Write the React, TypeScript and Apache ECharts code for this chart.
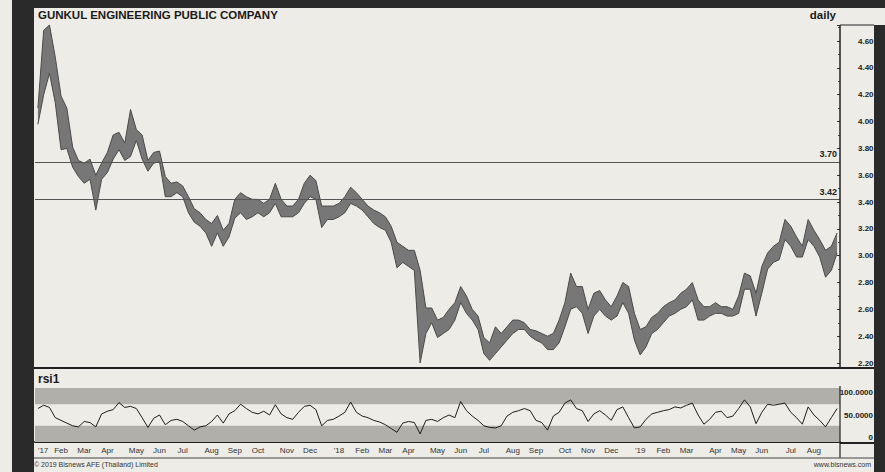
import React, { useEffect, useRef } from 'react';
import * as echarts from 'echarts';

// ---- data (weekly) ----
const firstWeek = '2017-01-02';
const monthNames = ['Jan', 'Feb', 'Mar', 'Apr', 'May', 'Jun', 'Jul', 'Aug', 'Sep', 'Oct', 'Nov', 'Dec'];

const lows = [
  3.98, 4.20, 4.36, 4.14, 3.79, 3.80, 3.66, 3.59, 3.54, 3.57,
  3.34, 3.57, 3.62, 3.72, 3.79, 3.71, 3.74, 3.86, 3.72, 3.63,
  3.69, 3.70, 3.44, 3.44, 3.47, 3.44, 3.32, 3.25, 3.22, 3.17,
  3.07, 3.17, 3.07, 3.14, 3.28, 3.32, 3.27, 3.29, 3.32, 3.29,
  3.32, 3.39, 3.29, 3.29, 3.29, 3.32, 3.39, 3.44, 3.42, 3.21,
  3.27, 3.27, 3.29, 3.32, 3.39, 3.37, 3.34, 3.29, 3.24, 3.21,
  3.19, 3.10, 2.91, 2.95, 2.92, 2.89, 2.20, 2.42, 2.50, 2.39,
  2.42, 2.45, 2.52, 2.65, 2.57, 2.52, 2.45, 2.27, 2.22, 2.27,
  2.32, 2.37, 2.42, 2.45, 2.45, 2.40, 2.37, 2.35, 2.30, 2.30,
  2.35, 2.47, 2.60, 2.62, 2.57, 2.42, 2.55, 2.60, 2.55, 2.52,
  2.55, 2.65, 2.57, 2.37, 2.26, 2.32, 2.42, 2.45, 2.50, 2.55,
  2.57, 2.60, 2.62, 2.67, 2.52, 2.52, 2.55, 2.57, 2.57, 2.55,
  2.55, 2.57, 2.75, 2.75, 2.55, 2.72, 2.90, 2.95, 2.97, 3.12,
  3.07, 2.99, 2.99, 3.12, 3.07, 2.99, 2.84, 2.89, 3.02,
];

const highs = [
  4.10, 4.68, 4.72, 4.48, 4.19, 4.10, 3.81, 3.71, 3.69, 3.72,
  3.60, 3.69, 3.77, 3.90, 3.92, 3.84, 4.09, 3.94, 3.90, 3.71,
  3.77, 3.78, 3.59, 3.54, 3.55, 3.52, 3.44, 3.35, 3.32, 3.27,
  3.24, 3.30, 3.19, 3.24, 3.42, 3.47, 3.44, 3.42, 3.42, 3.39,
  3.42, 3.54, 3.42, 3.37, 3.37, 3.42, 3.54, 3.60, 3.56, 3.37,
  3.37, 3.37, 3.39, 3.44, 3.51, 3.47, 3.42, 3.37, 3.34, 3.32,
  3.29, 3.22, 3.10, 3.07, 3.04, 3.04, 2.89, 2.61, 2.61, 2.52,
  2.54, 2.60, 2.65, 2.77, 2.70, 2.60, 2.55, 2.39, 2.35, 2.47,
  2.42, 2.47, 2.52, 2.52, 2.50, 2.45, 2.44, 2.42, 2.40, 2.42,
  2.52, 2.65, 2.87, 2.77, 2.77, 2.60, 2.72, 2.74, 2.67, 2.62,
  2.70, 2.80, 2.77, 2.57, 2.45, 2.47, 2.54, 2.57, 2.62, 2.65,
  2.67, 2.72, 2.75, 2.80, 2.67, 2.62, 2.62, 2.65, 2.62, 2.62,
  2.60, 2.70, 2.87, 2.85, 2.72, 2.92, 3.02, 3.07, 3.10, 3.27,
  3.22, 3.14, 3.07, 3.27, 3.19, 3.12, 3.04, 3.07, 3.17,
];

const rsi = [
  62, 68, 64, 45, 40, 35, 30, 28, 38, 36,
  28, 52, 57, 60, 73, 64, 66, 62, 45, 27,
  44, 50, 32, 40, 42, 38, 30, 22, 28, 30,
  38, 50, 35, 52, 58, 70, 62, 55, 52, 57,
  50, 69, 52, 45, 42, 55, 66, 68, 60, 30,
  40, 42, 48, 55, 74, 55, 48, 45, 40, 37,
  32, 25, 18, 35, 38, 36, 15, 40, 42, 38,
  45, 50, 45, 75, 58, 48, 40, 30, 27, 26,
  30, 48, 55, 58, 62, 58, 40, 36, 22, 48,
  55, 72, 78, 62, 58, 38, 52, 58, 50, 40,
  60, 65, 45, 26, 28, 42, 52, 55, 58, 60,
  65, 63, 68, 72, 50, 33, 42, 55, 57, 45,
  48, 62, 78, 65, 34, 55, 70, 68, 70, 72,
  55, 45, 33, 65, 50, 40, 28, 45, 62,
];

const levelLines = [3.70, 3.42];
const lastPrice = 3.18;
const priceMin = 2.2;
const priceMax = 4.72;
const priceStep = 0.2;
const rsiBands = [[70, 100], [0, 30]];

// ---- derived ----
const DAY = 86400000;
const t0 = Date.parse(firstWeek + 'T00:00:00Z');
const weeks: string[] = lows.map((_, i) => new Date(t0 + i * 7 * DAY).toISOString().slice(0, 10));
const lastTradingDay = Date.parse(weeks[weeks.length - 1] + 'T00:00:00Z') + 4 * DAY;
const ranges = highs.map((h, i) => +(h - lows[i]).toFixed(2));

function yearOrMonth(d: Date): string {
  const m = d.getUTCMonth();
  return m === 0 ? "'" + String(d.getUTCFullYear()).slice(2) : monthNames[m];
}

function monthLabel(idx: number): string {
  const start = Date.parse(weeks[idx] + 'T00:00:00Z');
  if (idx === 0) return yearOrMonth(new Date(start));
  const end = new Date(start + 6 * DAY);
  const dom = end.getUTCDate();
  if (dom <= 7) {
    const first = end.getTime() - (dom - 1) * DAY;
    if (first > lastTradingDay) return '';
    return yearOrMonth(end);
  }
  return '';
}

const FONT = "'Liberation Sans', Arial, sans-serif";
const PAPER = '#eeece7';
const INK = '#222';

export default function App() {
  const ref = useRef<HTMLDivElement>(null);
  useEffect(() => {
    document.body.style.margin = '0';
    const chart = echarts.init(ref.current!, null, { renderer: 'svg' });
    const option: any = {
      animation: false,
      backgroundColor: PAPER,
      textStyle: { fontFamily: FONT },
      grid: [
        { left: 35, right: 45, top: 25, height: 338 },
        { left: 35, right: 45, top: 388, height: 54 },
      ],
      xAxis: [
        {
          type: 'category', gridIndex: 0, data: weeks, boundaryGap: true,
          axisLine: { show: false }, axisTick: { show: false }, axisLabel: { show: false }, splitLine: { show: false },
        },
        {
          type: 'category', gridIndex: 1, data: weeks, boundaryGap: true,
          axisLine: { show: true, lineStyle: { color: INK, width: 2 } },
          axisTick: { show: false },
          axisLabel: {
            interval: (index: number) => monthLabel(index) !== '',
            formatter: (_v: string, index: number) => monthLabel(index),
            fontSize: 8, color: '#333', margin: 4, fontFamily: FONT,
            alignMinLabel: 'left',
          },
          splitLine: { show: false },
        },
      ],
      yAxis: [
        {
          type: 'value', gridIndex: 0, position: 'right', min: priceMin, max: priceMax, interval: priceStep,
          axisLine: { show: false },
          axisTick: { show: true, inside: true, length: 3, lineStyle: { color: '#333' } },
          minorTick: { show: true, splitNumber: 2, length: 2, lineStyle: { color: '#555' } },
          splitLine: { show: false },
          axisLabel: {
            fontSize: 8, color: INK, fontWeight: 'bold', margin: 18, showMaxLabel: false, fontFamily: FONT,
            formatter: (v: number) => (Math.abs(v / priceStep - Math.round(v / priceStep)) < 1e-6 ? v.toFixed(2) : ''),
          },
        },
        {
          type: 'value', gridIndex: 1, position: 'right', min: 0, max: 100, interval: 50,
          axisLine: { show: false }, axisTick: { show: false }, splitLine: { show: false },
          axisLabel: {
            fontSize: 8, color: INK, fontWeight: 'bold', margin: 33, align: 'right', fontFamily: FONT,
            formatter: (v: number) => (v === 0 ? '{lo|0}' : v === 100 ? '{hi|' + v.toFixed(4) + '}' : v.toFixed(4)),
            rich: {
              hi: { fontSize: 8, fontWeight: 'bold', color: INK, padding: [8, 0, 0, 0], fontFamily: FONT },
              lo: { fontSize: 8, fontWeight: 'bold', color: INK, padding: [0, 0, 10, 0], fontFamily: FONT },
            },
          },
        },
      ],
      series: [
        {
          name: 'low', type: 'line', xAxisIndex: 0, yAxisIndex: 0, data: lows, stack: 'price',
          symbol: 'none', lineStyle: { color: '#4a4a4a', width: 1 }, z: 3,
        },
        {
          name: 'range', type: 'line', xAxisIndex: 0, yAxisIndex: 0, data: ranges, stack: 'price',
          symbol: 'none', lineStyle: { color: '#4a4a4a', width: 1 }, areaStyle: { color: '#777', opacity: 1 }, z: 3,
          markLine: {
            silent: true, symbol: 'none',
            data: [
              ...levelLines.map((v) => ({
                yAxis: v,
                lineStyle: { color: '#555', width: 1.2, type: 'solid' },
                label: { show: true, position: 'insideEndTop', formatter: v.toFixed(2), fontSize: 9, fontWeight: 'bold', color: INK, distance: 3, fontFamily: FONT },
              })),
              {
                yAxis: lastPrice,
                lineStyle: { opacity: 0, width: 0 },
                label: { show: true, position: 'end', formatter: lastPrice.toFixed(2), fontSize: 7, fontWeight: 'bold', color: INK, distance: 3, fontFamily: FONT },
              },
            ],
          },
        },
        {
          name: 'rsi1', type: 'line', xAxisIndex: 1, yAxisIndex: 1, data: rsi,
          symbol: 'none', lineStyle: { color: '#1e1e1e', width: 1 }, z: 4,
          markArea: {
            silent: true,
            itemStyle: { color: '#b0afaa' },
            data: rsiBands.map((b) => [{ yAxis: b[0] }, { yAxis: b[1] }]),
          },
        },
      ],
      graphic: [
        // frame lines
        { type: 'line', shape: { x1: 34, y1: 368, x2: 874, y2: 368 }, style: { stroke: INK, lineWidth: 2 }, z: 50 },
        { type: 'line', shape: { x1: 840, y1: 25, x2: 840, y2: 368 }, style: { stroke: INK, lineWidth: 1.5 }, z: 50 },
        { type: 'line', shape: { x1: 840, y1: 25, x2: 874, y2: 25 }, style: { stroke: INK, lineWidth: 1 }, z: 50 },
        { type: 'line', shape: { x1: 840, y1: 386, x2: 840, y2: 458 }, style: { stroke: INK, lineWidth: 1.2 }, z: 50 },
        { type: 'line', shape: { x1: 840, y1: 443, x2: 874, y2: 443 }, style: { stroke: INK, lineWidth: 2 }, z: 50 },
        { type: 'line', shape: { x1: 34, y1: 458, x2: 874, y2: 458 }, style: { stroke: '#444', lineWidth: 1 }, z: 50 },
        // texts
        { type: 'text', left: 38, top: 9, style: { text: 'GUNKUL ENGINEERING PUBLIC COMPANY', font: `bold 11.5px ${FONT}`, fill: '#1a1a1a' }, z: 60 },
        { type: 'text', x: 836, y: 9, style: { text: 'daily', font: `bold 11.5px ${FONT}`, fill: '#1a1a1a', align: 'right' }, z: 60 },
        { type: 'text', left: 38, top: 373, style: { text: 'rsi1', font: `bold 12px ${FONT}`, fill: '#1a1a1a' }, z: 60 },
        { type: 'text', left: 34, top: 461, style: { text: '© 2019 Bisnews AFE (Thailand) Limited', font: `7px ${FONT}`, fill: '#333' }, z: 60 },
        { type: 'text', x: 871, y: 461, style: { text: 'www.bisnews.com', font: `7px ${FONT}`, fill: '#333', align: 'right' }, z: 60 },
        // dark scan borders
        { type: 'rect', shape: { x: 12, y: 0, width: 873, height: 8 }, style: { fill: '#2a2a2a' }, z: 100 },
        { type: 'rect', shape: { x: 12, y: 0, width: 22, height: 472 }, style: { fill: '#2a2a2a' }, z: 100 },
        { type: 'rect', shape: { x: 874, y: 25, width: 11, height: 447 }, style: { fill: '#2a2a2a' }, z: 100 },
      ],
    };
    chart.setOption(option);
    return () => chart.dispose();
  }, []);
  return <div ref={ref} style={{ width: 885, height: 472, position: 'fixed', left: 0, top: 0 }} />;
}
